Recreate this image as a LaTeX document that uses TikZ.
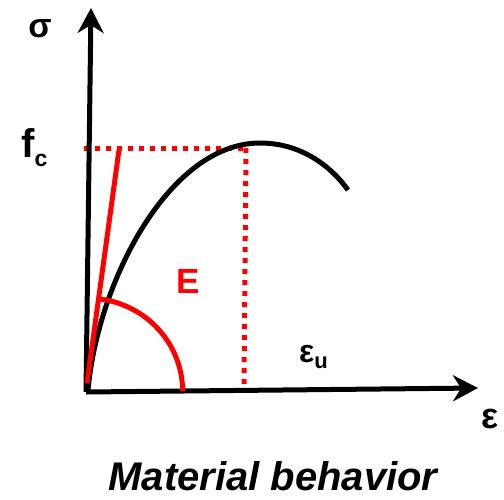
\documentclass[tikz,border=0pt]{standalone}
\usepackage{fontspec}
\setmainfont{Liberation Sans}
\usetikzlibrary{arrows.meta}
\tikzset{
  axis/.style={line width=5pt,-{Stealth[length=25pt,width=26pt,inset=8pt]}},
  curve/.style={line width=5pt},
  redline/.style={red,line width=5pt},
  reddot/.style={red,line width=5pt,dash pattern=on 5pt off 6pt},
  lbl/.style={inner sep=0pt,font=\bfseries}
}
\begin{document}
\begin{tikzpicture}[x=1pt,y=-1pt]
\useasboundingbox (0,0) rectangle (504,499);
\coordinate (O) at (86,392);
\coordinate (ytop) at (91,8);
\coordinate (xtip) at (478,388);
\coordinate (fcy) at (84,148);
\coordinate (pk) at (246,148);
\coordinate (pkb) at (244,385);
\coordinate (Et) at (119,150);
\coordinate (Eb) at (87,383);
% red dotted lines
\draw[reddot] (fcy) -- (pk);
\draw[reddot] (pk) -- (pkb);
% axes
\draw[axis] (O) -- (ytop);
\draw[axis] (O) -- (xtip);
% curve
\draw[curve] (88,390) .. controls (98,280) and (170,143) .. (260,143)
  .. controls (300,143) and (330,165) .. (348,190);
% tangent
\draw[redline] (Eb) -- (Et);
% arc
\draw[redline] (100,299) arc[start angle=82.5,end angle=0,x radius=95,y radius=-93];
% labels
\node[lbl,font=\bfseries\fontsize{34}{34}\selectfont,anchor=base] (sig) at (40,37) {σ};
\node[lbl,font=\bfseries\fontsize{40}{40}\selectfont,anchor=base west] (fc) at (21,157) {f\raisebox{-9pt}{\fontsize{23}{23}\selectfont c}};
\node[lbl,font=\bfseries\fontsize{36}{36}\selectfont,anchor=base west] (eps) at (481,428) {ε};
\node[lbl,font=\bfseries\fontsize{32}{32}\selectfont,anchor=base west] (epsu) at (299,362) {ε\raisebox{-6pt}{\fontsize{22}{22}\selectfont u}};
\node[lbl,red,font=\bfseries\fontsize{35}{35}\selectfont,anchor=base west] (E) at (176,293) {E};
\node[lbl,font=\bfseries\itshape\fontsize{40}{40}\selectfont,anchor=base] (title) at (273,490) {Material behavior};
\end{tikzpicture}
\end{document}
